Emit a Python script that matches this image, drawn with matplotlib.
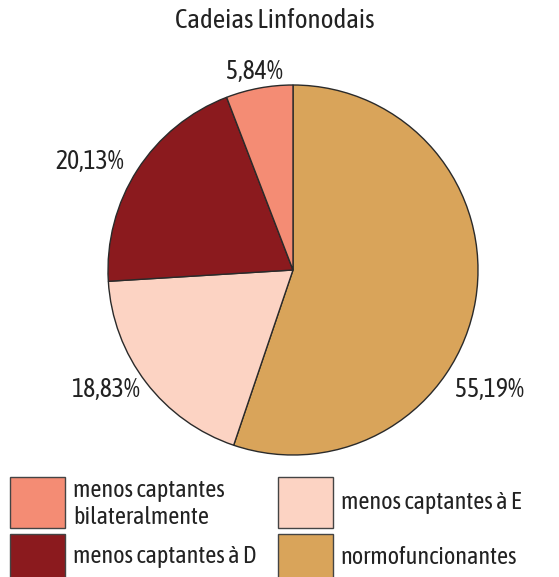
import matplotlib
matplotlib.use("Agg")
from matplotlib import pyplot as plt
from matplotlib import font_manager
from matplotlib.patches import Rectangle

# prefer a condensed face of normal weight if one is installed
fonts = font_manager.fontManager.ttflist
narrow = [f for f in fonts if "Condensed" in f.name or "Narrow" in f.name
          or "ondensed" in f.fname or "Narrow" in f.fname]
light = [f for f in narrow if "Light" in f.fname]
regular = [f for f in narrow if light and f.name == light[0].name
           and f.weight in (400, "normal", "regular") and f.style == "normal"]
pick = regular or light or narrow
if pick:
    prop = font_manager.FontProperties(fname=pick[0].fname)
else:
    prop = font_manager.FontProperties(family="Roboto", weight="light")

# data
categories = ["normofuncionantes", "menos captantes à E", "menos captantes à D",
              "menos captantes\nbilateralmente"]
values = [55.19, 18.83, 20.13, 5.84]
pct_labels = ["55,19%", "18,83%", "20,13%", "5,84%"]
colors = ["#D9A45A", "#FCD3C3", "#8B1A1E", "#F48C74"]

W, H = 559, 577
fig = plt.figure(figsize=(W / 100, H / 100), dpi=100)
ax = fig.add_axes([0, 0, 1, 1])

# pie, clockwise from the top
ax.pie(values, colors=colors, startangle=90, counterclock=False,
       center=(293, H - 270), radius=185,
       wedgeprops=dict(edgecolor="#2a2a2a", linewidth=1.0))

ax.set_xlim(0, W)
ax.set_ylim(0, H)
ax.set_aspect("equal")
ax.axis("off")

ax.text(275, H - 21, "Cadeias Linfonodais", ha="center", va="center",
        fontproperties=prop, fontsize=19.5, color="#222222")

# percentage labels
label_pos = [(489, 390), (105, 389), (90, 162), (254, 72)]
for txt, (x, y) in zip(pct_labels, label_pos):
    ax.text(x, H - y, txt, ha="center", va="center", fontproperties=prop,
            fontsize=18.5, color="#222222")

# legend
legend_pos = [(278, 534, 557), (278, 477, 503), (10, 534, 557), (10, 477, 504)]
for cat, col, (x, y, ty) in zip(categories, colors, legend_pos):
    ax.add_patch(Rectangle((x, H - y - 51), 55, 51, facecolor=col,
                           edgecolor="#444444", linewidth=1.0, clip_on=False))
    ax.text(x + 63, H - ty, cat, ha="left", va="center", fontproperties=prop,
            fontsize=17.5, color="#222222", linespacing=1.2)

fig.savefig("out.png", dpi=100)
